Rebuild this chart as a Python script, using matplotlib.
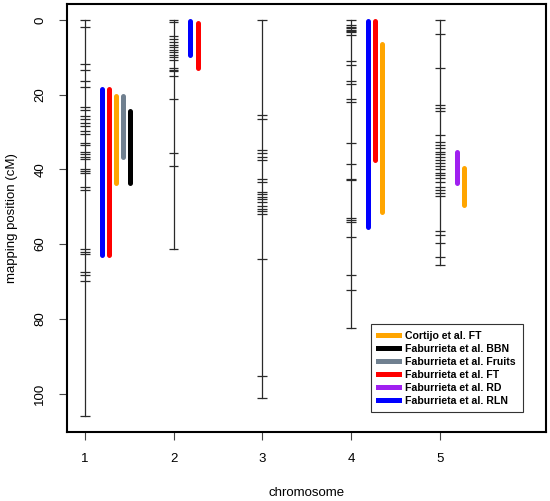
import matplotlib
matplotlib.use("Agg")
import matplotlib.pyplot as plt

plt.rcParams['font.family'] = ['Liberation Sans', 'DejaVu Sans']

# chromosome lengths (cM)
chrom_ids = [1, 2, 3, 4, 5]
chrom_len = [105.9, 61.2, 101.1, 82.4, 65.6]

# marker positions (cM) per chromosome
markers = {
    1: [0, 1.8, 11.8, 13.5, 16.4, 18, 23.3, 24, 25.8, 26.4, 27.7, 28.3, 29.7,
        30.5, 33.0, 33.6, 35.4, 36.0, 36.6, 37.2, 40.0, 40.5, 41.0, 44.7, 45.5,
        61.2, 62.0, 62.7, 67.4, 68.2, 69.8, 105.9],
    2: [0, 0.5, 4.3, 5.1, 6.0, 6.7, 7.3, 8.0, 8.7, 9.3, 9.9, 10.8, 12.9, 13.3,
        13.8, 14.9, 21.3, 35.6, 39.1, 61.2],
    3: [0, 25.5, 26.5, 34.8, 35.7, 36.6, 37.5, 42.7, 43.4, 46.0, 46.7, 47.4,
        48.0, 48.7, 49.8, 50.5, 51.2, 52.0, 64.0, 95.3, 101.1],
    4: [0, 1.5, 1.9, 2.3, 2.7, 3.0, 3.3, 4.0, 11.1, 12.2, 16.4, 17.2, 21.3, 22.0,
        32.9, 38.7, 42.5, 42.9, 52.9, 53.5, 54.2, 58.2, 68.3, 72.4, 82.4],
    5: [0, 3.7, 12.9, 22.9, 23.6, 24.3, 30.9, 32.7, 33.6, 34.4, 35.3, 36.0,
        36.8, 37.5, 38.4, 39.2, 40.0, 40.9, 41.6, 42.4, 43.3, 44.6, 45.4, 46.2,
        47.1, 56.4, 57.6, 59.8, 63.4, 65.6],
}

# QTL intervals: study, chromosome, start, end (cM)
qtl_study = ["Faburrieta et al. RLN", "Faburrieta et al. FT", "Cortijo et al. FT",
             "Faburrieta et al. Fruits", "Faburrieta et al. BBN",
             "Faburrieta et al. RLN", "Faburrieta et al. FT",
             "Faburrieta et al. RLN", "Faburrieta et al. FT", "Cortijo et al. FT",
             "Faburrieta et al. RD", "Cortijo et al. FT"]
qtl_chrom = [1, 1, 1, 1, 1, 2, 2, 4, 4, 4, 5, 5]
qtl_start = [18.6, 18.6, 20.5, 20.5, 24.3, 0.3, 0.9, 0.3, 0.3, 6.4, 35.3, 39.7]
qtl_end = [63.0, 63.0, 43.6, 36.7, 43.6, 9.4, 12.8, 55.4, 37.6, 51.4, 43.6, 49.6]

legend_labels = ["Cortijo et al. FT", "Faburrieta et al. BBN",
                 "Faburrieta et al. Fruits", "Faburrieta et al. FT",
                 "Faburrieta et al. RD", "Faburrieta et al. RLN"]
legend_colors = ["orange", "black", "slategray", "red", "#a020f0", "blue"]
study_color = dict(zip(legend_labels, legend_colors))

fig = plt.figure(figsize=(5.5, 5.01), dpi=100)
ax = fig.add_axes([0.122, 0.138, 0.871, 0.854])

tick_w = 0.055
for c, L in zip(chrom_ids, chrom_len):
    ax.plot([c, c], [0, L], color="#2a2a2a", lw=0.9)
    ax.hlines(markers[c], c - tick_w, c + tick_w, color="#2a2a2a", lw=0.9)

# QTL bars, offset by order within each chromosome
count = {}
for s, c, a, b in zip(qtl_study, qtl_chrom, qtl_start, qtl_end):
    k = count.get(c, 0)
    count[c] = k + 1
    x = c + 0.19 + 0.08 * k
    ax.plot([x, x], [a, b], color=study_color[s], lw=3.6,
            solid_capstyle="round")

handles = [plt.Line2D([], [], color=col, lw=3.6) for col in legend_colors]
leg = ax.legend(handles, legend_labels, loc="lower right",
                bbox_to_anchor=(0.962, 0.033), fancybox=False,
                edgecolor="#333333", framealpha=1, handlelength=2.0,
                handletextpad=0.6, labelspacing=0.28, borderpad=0.65,
                prop={"weight": "bold", "size": 7.6})
leg.get_frame().set_linewidth(0.8)

ax.set_xlim(0.8, 6.2)
ax.set_ylim(110.24, -4.24)
ax.set_xticks([1, 2, 3, 4, 5])
ax.set_yticks([0, 20, 40, 60, 80, 100])
for lab in ax.get_yticklabels():
    lab.set_rotation(90)
    lab.set_va("center")
ax.tick_params(direction="out", length=6, width=0.8, labelsize=9.5,
               color="#444444", pad=9)
for sp in ax.spines.values():
    sp.set_linewidth(1.5)

ax.set_xlabel("chromosome", fontsize=9.5, labelpad=16)
ax.set_ylabel("mapping position (cM)", fontsize=9.5, labelpad=12)

fig.savefig("out.png", dpi=100)
